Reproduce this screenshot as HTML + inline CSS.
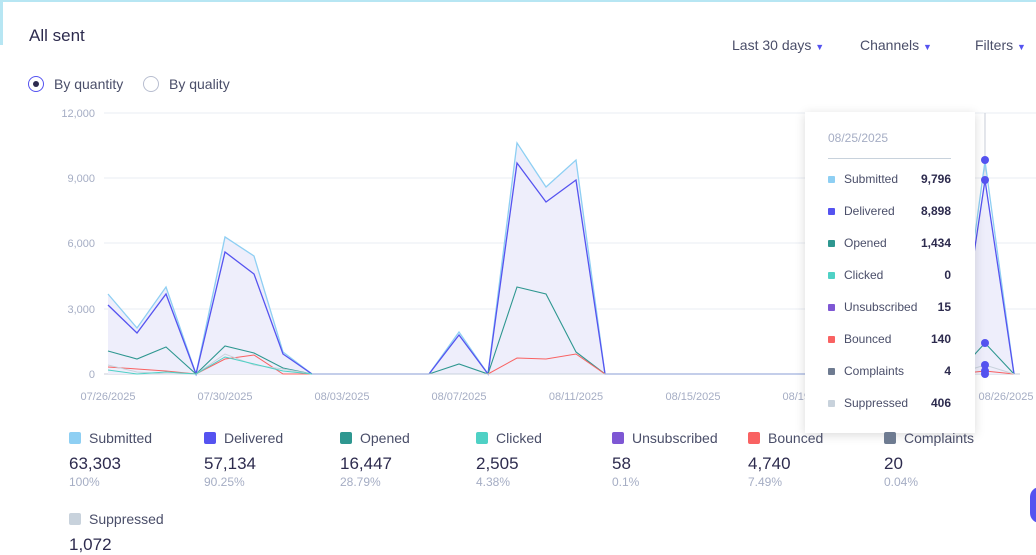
<!DOCTYPE html><html><head><style>
body{margin:0;width:1036px;height:554px;overflow:hidden;background:#fff;font-family:"Liberation Sans",sans-serif;position:relative}
.t{position:absolute;white-space:nowrap}
.leg{position:absolute;font-size:14px;color:#4a4e69}
.leg i{display:inline-block;width:12px;height:12px;border-radius:2px;margin-right:8px;vertical-align:-1px}
.leg b{display:block;font-size:17px;color:#2d2b4e;font-weight:normal;margin-top:8px}
.leg s{display:block;text-decoration:none;font-size:12px;color:#a5adc4;margin-top:1px}
.tt{position:absolute;left:805px;top:112px;width:170px;height:321px;background:#fff;box-shadow:0 2px 10px rgba(0,0,0,.15)}
.row{position:absolute;left:23px;width:123px;font-size:12px;color:#4a4e69}
.row i{display:inline-block;width:7px;height:7px;border-radius:1px;margin-right:9px}
.row b{float:right;color:#2d2b4e}
</style></head><body>
<div style="position:absolute;left:0;top:0;width:1036px;height:2px;background:#b7e6f3"></div>
<div style="position:absolute;left:0;top:0;width:3px;height:45px;background:#b7e6f3"></div>
<div class="t" style="left:29px;top:26px;font-size:17px;color:#2d2b4e">All sent</div>
<div class="t" style="left:732px;top:37px;font-size:14px;color:#4a4e69">Last 30 days <span style="color:#5553f0;font-size:9px">▼</span></div>
<div class="t" style="left:860px;top:37px;font-size:14px;color:#4a4e69">Channels <span style="color:#5553f0;font-size:9px">▼</span></div>
<div class="t" style="left:975px;top:37px;font-size:14px;color:#4a4e69">Filters <span style="color:#5553f0;font-size:9px">▼</span></div>
<div style="position:absolute;left:28px;top:76px;width:14px;height:14px;border:1px solid #5553f0;border-radius:50%"></div>
<div style="position:absolute;left:33px;top:81px;width:6px;height:6px;background:#2d2b4e;border-radius:50%"></div>
<div class="t" style="left:54px;top:76px;font-size:14px;color:#4a4e69">By quantity</div>
<div style="position:absolute;left:143px;top:76px;width:14px;height:14px;border:1px solid #b8bed0;border-radius:50%"></div>
<div class="t" style="left:169px;top:76px;font-size:14px;color:#4a4e69">By quality</div>
<svg width="1036" height="554" style="position:absolute;left:0;top:0" font-family="Liberation Sans" font-size="11" fill="#a5adc4">
<g stroke="#e9edf3"><line x1="104" x2="1036" y1="113" y2="113"/><line x1="104" x2="1036" y1="178" y2="178"/><line x1="104" x2="1036" y1="243" y2="243"/><line x1="104" x2="1036" y1="309" y2="309"/></g>
<line x1="104" x2="1020" y1="374" y2="374" stroke="#c8cdd8"/>
<g text-anchor="end"><text x="95" y="117">12,000</text><text x="95" y="182">9,000</text><text x="95" y="247">6,000</text><text x="95" y="313">3,000</text><text x="95" y="378">0</text></g>
<g text-anchor="middle"><text x="108" y="400">07/26/2025</text><text x="225" y="400">07/30/2025</text><text x="342" y="400">08/03/2025</text><text x="459" y="400">08/07/2025</text><text x="576" y="400">08/11/2025</text><text x="693" y="400">08/15/2025</text><text x="810" y="400">08/19/2025</text><text x="1006" y="400">08/26/2025</text></g>
<line x1="985" x2="985" y1="113" y2="374" stroke="#c8cdd8"/>
<polygon fill="#eeeefb" points="108,374 108,294 137,328 166,288 196,374 225,236 254,256 283,354 312,374 429,374 459,335 488,374 517,145 546,187 576,161 605,374 956,374 985,180 1014,374"/>
<polyline fill="none" stroke="#8ecff3" stroke-width="1.3" points="108,294 137,328 166,287 196,374 225,237 254,256 283,352 312,374 429,374 459,332 488,374 517,143 546,187 576,160 605,374 956,374 985,161 1014,374"/>
<polyline fill="none" stroke="#5553f0" stroke-width="1.3" points="108,305 137,333 166,294 196,374 225,252 254,274 283,354 312,374 429,374 459,335 488,374 517,163 546,202 576,180 605,374 956,374 985,180 1014,374"/>
<polyline fill="none" stroke="#2e9790" stroke-width="1.1" points="108,351 137,359 166,347 196,374 225,346 254,353 283,368 312,374 429,374 459,364 488,374 517,287 546,294 576,352 605,374 956,374 975,354 985,343 1014,374"/>
<polyline fill="none" stroke="#f96262" stroke-width="1" points="108,367 137,369 166,371 196,374 225,359 254,355 283,374 488,374 517,358 546,359 576,354 605,374 956,374 985,371 1014,374"/>
<polyline fill="none" stroke="#c8d2dc" stroke-width="1" points="108,365 137,372 166,374 196,374 225,354 254,365 283,369 312,374 956,374 985,365 1014,374"/>
<polyline fill="none" stroke="#4fd1c5" stroke-width="1" points="108,370 137,374 166,372 196,374 225,357 254,364 283,371 312,374"/>
<g fill="#5553f0"><circle cx="985" cy="160" r="4"/><circle cx="985" cy="180" r="4"/><circle cx="985" cy="343" r="4"/><circle cx="985" cy="365" r="4"/><circle cx="985" cy="371" r="4"/><circle cx="985" cy="374" r="4"/></g>
</svg>
<div class="tt">
<div class="t" style="left:23px;top:19px;font-size:12px;color:#a5adc4">08/25/2025</div>
<div style="position:absolute;left:23px;top:46px;width:123px;height:1px;background:#c8d2dc"></div>
<div class="row" style="top:60px"><i style="background:#8ecff3"></i>Submitted<b>9,796</b></div>
<div class="row" style="top:92px"><i style="background:#5553f0"></i>Delivered<b>8,898</b></div>
<div class="row" style="top:124px"><i style="background:#2e9790"></i>Opened<b>1,434</b></div>
<div class="row" style="top:156px"><i style="background:#4fd1c5"></i>Clicked<b>0</b></div>
<div class="row" style="top:188px"><i style="background:#7e57d4"></i>Unsubscribed<b>15</b></div>
<div class="row" style="top:220px"><i style="background:#f96262"></i>Bounced<b>140</b></div>
<div class="row" style="top:252px"><i style="background:#6e7b91"></i>Complaints<b>4</b></div>
<div class="row" style="top:284px"><i style="background:#c8d2dc"></i>Suppressed<b>406</b></div>
</div>
<div class="leg" style="left:69px;top:430px"><i style="background:#8ecff3"></i>Submitted<b>63,303</b><s>100%</s></div>
<div class="leg" style="left:204px;top:430px"><i style="background:#5553f0"></i>Delivered<b>57,134</b><s>90.25%</s></div>
<div class="leg" style="left:340px;top:430px"><i style="background:#2e9790"></i>Opened<b>16,447</b><s>28.79%</s></div>
<div class="leg" style="left:476px;top:430px"><i style="background:#4fd1c5"></i>Clicked<b>2,505</b><s>4.38%</s></div>
<div class="leg" style="left:612px;top:430px"><i style="background:#7e57d4"></i>Unsubscribed<b>58</b><s>0.1%</s></div>
<div class="leg" style="left:748px;top:430px"><i style="background:#f96262"></i>Bounced<b>4,740</b><s>7.49%</s></div>
<div class="leg" style="left:884px;top:430px"><i style="background:#6e7b91"></i>Complaints<b>20</b><s>0.04%</s></div>
<div class="leg" style="left:69px;top:511px"><i style="background:#c8d2dc"></i>Suppressed<b>1,072</b></div>
<div style="position:absolute;left:1030px;top:487px;width:20px;height:36px;border-radius:18px;background:#5553f0"></div>
</body></html>
